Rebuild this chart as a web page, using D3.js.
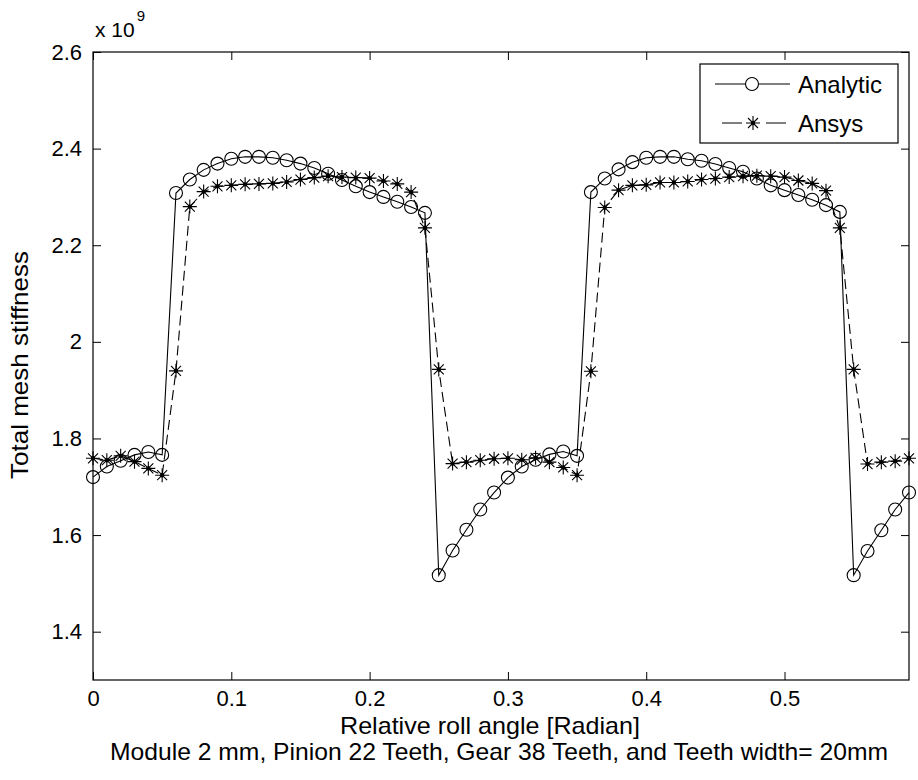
<!DOCTYPE html>
<html>
<head>
<meta charset="utf-8">
<script src="https://cdn.jsdelivr.net/npm/d3@7"></script>
<style>
    html, body { margin: 0; padding: 0; background: #fff; }
    svg text { font-family: "Liberation Sans", Arial, sans-serif; fill: #000; }
</style>
</head>
<body>
<svg id="chart" width="918" height="780"></svg>
<script>
// roll angle [rad], one sample every 0.01
var angles = d3.range(60).map(function (i) { return i / 100; });

// total mesh stiffness, x 1e9
var analytic = [
    1.720, 1.742, 1.754, 1.766, 1.772, 1.766, 2.308, 2.336, 2.356, 2.369,
    2.379, 2.383, 2.383, 2.381, 2.376, 2.369, 2.360, 2.348, 2.335, 2.322,
    2.310, 2.300, 2.290, 2.279, 2.267, 1.517, 1.568, 1.611, 1.653, 1.688,
    1.719, 1.742, 1.756, 1.767, 1.773, 1.764, 2.310, 2.338, 2.357, 2.372,
    2.381, 2.383, 2.383, 2.378, 2.375, 2.368, 2.360, 2.352, 2.338, 2.324,
    2.314, 2.304, 2.294, 2.283, 2.269, 1.517, 1.567, 1.610, 1.653, 1.688
];
var ansys = [
    1.759, 1.755, 1.764, 1.752, 1.738, 1.724, 1.940, 2.280, 2.311, 2.322,
    2.324, 2.326, 2.327, 2.328, 2.331, 2.336, 2.340, 2.343, 2.341, 2.340,
    2.339, 2.333, 2.327, 2.310, 2.236, 1.943, 1.748, 1.751, 1.755, 1.758,
    1.759, 1.756, 1.760, 1.751, 1.740, 1.724, 1.939, 2.278, 2.314, 2.324,
    2.325, 2.330, 2.330, 2.332, 2.336, 2.338, 2.341, 2.343, 2.344, 2.343,
    2.341, 2.334, 2.328, 2.313, 2.236, 1.943, 1.747, 1.751, 1.753, 1.759
];

var xTicks = [0, 0.1, 0.2, 0.3, 0.4, 0.5];
var yTicks = [1.4, 1.6, 1.8, 2.0, 2.2, 2.4, 2.6];
var seriesNames = ["Analytic", "Ansys"];

(function (d3) {
    "use strict";

    var svg = d3.select("#chart"),
        left = 93, right = 909, top = 52, bottom = 680,
        tickLen = 8,
        tickFont = 22,
        fontSize = 24,
        x = d3.scaleLinear().domain([0, 0.59]).range([left, right]),
        y = d3.scaleLinear().domain([1.3, 2.6]).range([bottom, top]),
        line = d3.line()
            .x(function (d) { return x(d[0]); })
            .y(function (d) { return y(d[1]); }),
        g;

    function drawStar(sel, cx, cy) {
        var a = 7, b = 5;
        var s = sel.append("g").attr("transform", "translate(" + cx + "," + cy + ")");
        s.append("path")
            .attr("d", "M" + (-a) + ",0H" + a + "M0," + (-a) + "V" + a +
                "M" + (-b) + "," + (-b) + "L" + b + "," + b + "M" + (-b) + "," + b + "L" + b + "," + (-b))
            .attr("stroke", "#000").attr("stroke-width", 1.1).attr("fill", "none");
        s.append("circle").attr("r", 2.2).attr("fill", "#000");
    }

    // axes box
    svg.append("rect")
        .attr("x", left).attr("y", top)
        .attr("width", right - left).attr("height", bottom - top)
        .attr("fill", "none").attr("stroke", "#000").attr("stroke-width", 1.2);

    // bottom axis with ticks drawn inside, mirrored on top
    g = svg.append("g").attr("transform", "translate(0," + bottom + ")")
        .call(d3.axisBottom(x).tickValues(xTicks).tickSizeInner(-tickLen).tickSizeOuter(0)
            .tickPadding(10).tickFormat(d3.format("")));
    g.select(".domain").remove();
    g.selectAll("text").attr("font-size", tickFont).attr("font-family", null);

    g = svg.append("g").attr("transform", "translate(0," + top + ")")
        .call(d3.axisTop(x).tickValues(xTicks).tickSizeInner(-tickLen).tickSizeOuter(0).tickFormat(""));
    g.select(".domain").remove();

    g = svg.append("g").attr("transform", "translate(" + left + ",0)")
        .call(d3.axisLeft(y).tickValues(yTicks).tickSizeInner(-tickLen).tickSizeOuter(0)
            .tickPadding(11).tickFormat(d3.format("")));
    g.select(".domain").remove();
    g.selectAll("text").attr("font-size", tickFont).attr("font-family", null);

    g = svg.append("g").attr("transform", "translate(" + right + ",0)")
        .call(d3.axisRight(y).tickValues(yTicks).tickSizeInner(-tickLen).tickSizeOuter(0).tickFormat(""));
    g.select(".domain").remove();

    svg.selectAll(".tick line").attr("stroke", "#000");

    // exponent label
    var ex = svg.append("text").attr("x", left + 2).attr("y", 37).attr("font-size", 21);
    ex.append("tspan").text("x 10");
    ex.append("tspan").attr("dx", 2).attr("dy", -16).attr("font-size", 15).text("9");

    // axis titles
    svg.append("text")
        .attr("transform", "translate(28,365) rotate(-90)")
        .attr("text-anchor", "middle").attr("font-size", fontSize)
        .attr("textLength", 228).attr("lengthAdjust", "spacingAndGlyphs")
        .text("Total mesh stiffness");
    svg.append("text")
        .attr("x", 490).attr("y", 734)
        .attr("text-anchor", "middle").attr("font-size", fontSize)
        .attr("textLength", 300).attr("lengthAdjust", "spacingAndGlyphs")
        .text("Relative roll angle [Radian]");
    svg.append("text")
        .attr("x", 499).attr("y", 760)
        .attr("text-anchor", "middle").attr("font-size", fontSize)
        .attr("textLength", 778).attr("lengthAdjust", "spacingAndGlyphs")
        .text("Module 2 mm, Pinion 22 Teeth, Gear 38 Teeth, and Teeth width= 20mm");

    // data
    var plot = svg.append("g");
    var analyticPts = angles.map(function (a, i) { return [a, analytic[i]]; });
    var ansysPts = angles.map(function (a, i) { return [a, ansys[i]]; });

    plot.append("path").datum(analyticPts).attr("d", line)
        .attr("fill", "none").attr("stroke", "#000").attr("stroke-width", 1.1);
    plot.append("path").datum(ansysPts).attr("d", line)
        .attr("fill", "none").attr("stroke", "#000").attr("stroke-width", 1.1)
        .attr("stroke-dasharray", "10,5");

    plot.selectAll("circle.analytic").data(analyticPts).enter()
        .append("circle").attr("class", "analytic")
        .attr("cx", function (d) { return x(d[0]); })
        .attr("cy", function (d) { return y(d[1]); })
        .attr("r", 6.5).attr("fill", "none").attr("stroke", "#000").attr("stroke-width", 1.1);
    ansysPts.forEach(function (d) { drawStar(plot, x(d[0]), y(d[1])); });

    // legend
    var lg = svg.append("g");
    lg.append("rect").attr("x", 700).attr("y", 64).attr("width", 198).attr("height", 79)
        .attr("fill", "#fff").attr("stroke", "#000").attr("stroke-width", 1.2);
    lg.append("line").attr("x1", 715).attr("x2", 790).attr("y1", 84).attr("y2", 84)
        .attr("stroke", "#000").attr("stroke-width", 1.1);
    lg.append("circle").attr("cx", 752).attr("cy", 84).attr("r", 6.5)
        .attr("fill", "#fff").attr("stroke", "#000").attr("stroke-width", 1.1);
    lg.append("line").attr("x1", 722).attr("x2", 790).attr("y1", 123).attr("y2", 123)
        .attr("stroke", "#000").attr("stroke-width", 1.1).attr("stroke-dasharray", "20,24");
    drawStar(lg, 753, 123);
    lg.selectAll("text.lbl").data(seriesNames).enter()
        .append("text").attr("class", "lbl")
        .attr("x", 798).attr("y", function (d, i) { return 93 + i * 39; })
        .attr("font-size", fontSize)
        .text(function (d) { return d; });

}(window.d3));
</script>
</body>
</html>
